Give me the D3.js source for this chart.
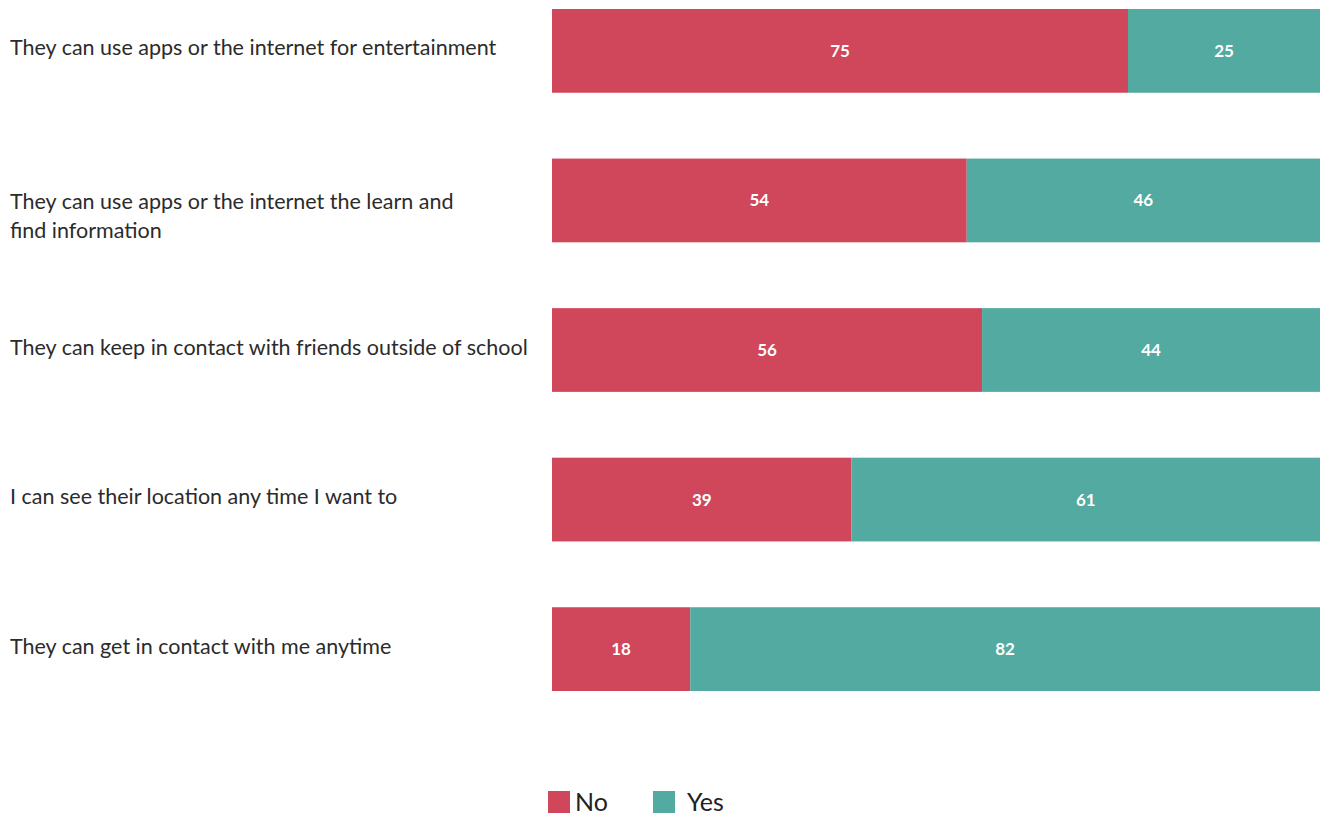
<!DOCTYPE html>
<html><head><meta charset="utf-8">
<script src="https://cdn.jsdelivr.net/npm/d3@7"></script>
<style>body{margin:0;background:#fff;}svg{display:block;font-family:Lato,"Open Sans",sans-serif;}</style>
</head><body>
<svg id="chart" width="1321" height="815"></svg>
<script>
const categories = [
  ["They can use apps or the internet for entertainment"],
  ["They can use apps or the internet the learn and", "find information"],
  ["They can keep in contact with friends outside of school"],
  ["I can see their location any time I want to"],
  ["They can get in contact with me anytime"]
];
const noValues = [75, 54, 56, 39, 18];
const yesValues = [25, 46, 44, 61, 82];
const seriesNames = ["No", "Yes"];
const colors = ["#D0465B", "#52AAA0"];

const svg = d3.select("#chart");
const x = d3.scaleLinear().domain([0, 100]).range([552, 1320]);
const y = d3.scaleBand().domain(d3.range(categories.length)).range([9, 691]).paddingInner(0.44).paddingOuter(0);

const rows = categories.map((c, i) => ({i, label: c, no: noValues[i], yes: yesValues[i]}));

const g = svg.append("g");
rows.forEach(r => {
  const segs = [
    {v: r.no, x0: 0, x1: r.no, c: colors[0]},
    {v: r.yes, x0: r.no, x1: r.no + r.yes, c: colors[1]}
  ];
  segs.forEach(s => {
    g.append("rect").attr("x", x(s.x0)).attr("y", y(r.i))
      .attr("width", x(s.x1) - x(s.x0)).attr("height", y.bandwidth()).attr("fill", s.c);
    g.append("text").attr("x", (x(s.x0) + x(s.x1)) / 2).attr("y", y(r.i) + y.bandwidth() / 2)
      .attr("dy", "0.35em").attr("text-anchor", "middle").attr("fill", "#fff")
      .attr("font-size", 17).attr("font-weight", 700).text(s.v);
  });
  const off = r.label.length > 1 ? 1 : -3;
  const t = g.append("text").attr("x", 10).attr("y", y(r.i) + y.bandwidth() / 2 + off)
    .attr("fill", "#2b2b2b").attr("font-size", 21.5);
  r.label.forEach((line, k) => {
    t.append("tspan").attr("x", 10).attr("dy", k === 0 ? "0.35em" : 29).text(line);
  });
});

const legend = svg.append("g");
const legX = [548, 653];
const legTx = [575, 687];
seriesNames.forEach((n, i) => {
  legend.append("rect").attr("x", legX[i]).attr("y", 791).attr("width", 22).attr("height", 22).attr("fill", colors[i]);
  legend.append("text").attr("x", legTx[i]).attr("y", 802).attr("dy", "0.35em")
    .attr("font-size", 25).attr("fill", "#222").text(n);
});
</script>
</body></html>
